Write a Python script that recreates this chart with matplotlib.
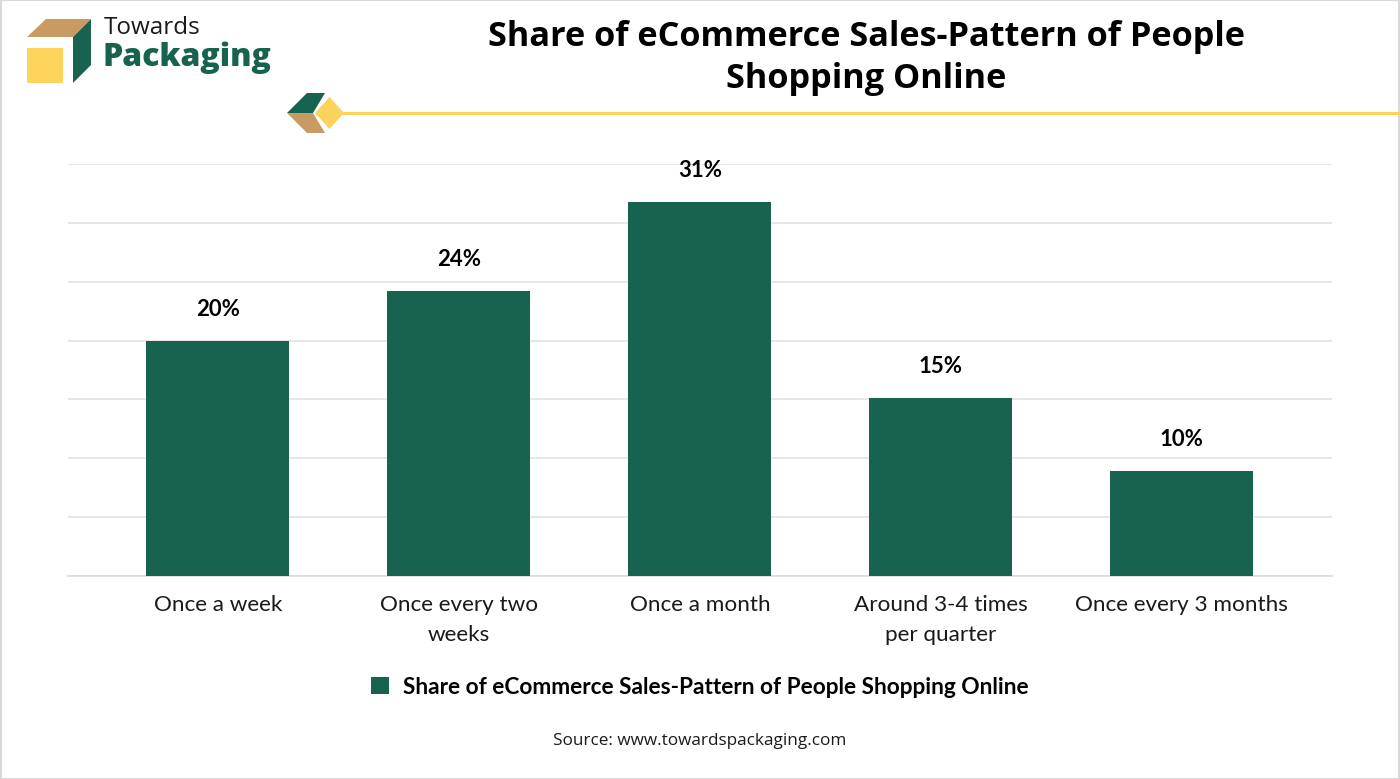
import matplotlib
matplotlib.use("Agg")
import matplotlib.pyplot as plt
from matplotlib.patches import Polygon, Rectangle, FancyBboxPatch
from matplotlib.lines import Line2D

# data
categories = ["Once a week", "Once every two\nweeks", "Once a month",
              "Around 3-4 times\nper quarter", "Once every 3 months"]
bar_values = [20.0, 24.2, 31.8, 15.1, 8.9]
value_labels = ["20%", "24%", "31%", "15%", "10%"]
series_name = "Share of eCommerce Sales-Pattern of People Shopping Online"
title = "Share of eCommerce Sales-Pattern of People\nShopping Online"
source = "Source: www.towardspackaging.com"

GREEN = "#17634f"
TAN = "#c99a62"
YELLOW = "#fdd35b"

W, H = 1400, 779
fig = plt.figure(figsize=(W / 100, H / 100), dpi=100)
fig.patch.set_facecolor("white")


def fp(x, y):
    # pixel coords (top-left origin) -> figure fraction
    return (x / W, 1 - y / H)


def poly(pts, color):
    fig.add_artist(Polygon([fp(*p) for p in pts], closed=True, transform=fig.transFigure,
                           facecolor=color, edgecolor="none"))


# outer border
fig.add_artist(Rectangle((0.0005, 0.0005), 0.999, 0.999, transform=fig.transFigure,
                         fill=False, edgecolor="#d9d9d9", linewidth=1.5))

# logo
poly([(27, 37), (73, 37), (91, 19), (46, 19)], TAN)
poly([(73, 37), (91, 19), (91, 65), (73, 83)], GREEN)
fig.add_artist(FancyBboxPatch(fp(27, 83), 36 / W, 35 / H, boxstyle="square,pad=0",
                              transform=fig.transFigure, facecolor=YELLOW, edgecolor="none"))
fig.text(*fp(104, 28), "Towards", fontsize=17.5, family="Open Sans", color="#1a1a1a", va="center")
fig.text(*fp(103, 58), "Packaging", fontsize=23, family="Open Sans", weight="heavy",
         color=GREEN, va="center")

# decoration + rule line
poly([(287, 113), (307, 93), (325, 93), (313, 113)], GREEN)
poly([(287, 113), (313, 113), (325, 133), (307, 133)], TAN)
poly([(315, 113), (329.5, 97), (344, 113), (329.5, 129)], YELLOW)
fig.add_artist(Line2D([344 / W, 1], [1 - 113 / H] * 2, transform=fig.transFigure,
                      color=YELLOW, linewidth=2.2))

fig.text(*fp(866, 58), title, ha="center", va="center", fontsize=24.7, family="Open Sans",
         weight="bold", color="black", linespacing=1.3)

# chart
ax = fig.add_axes([68 / W, 1 - 576 / H, (1332 - 68) / W, (576 - 164) / H])
x = range(len(categories))
bars = ax.bar(x, bar_values, width=0.593, color=GREEN, label=series_name, zorder=3)
ax.set_xlim(-0.622, 4.623)
ax.set_ylim(0, 35)
ax.set_yticks(range(0, 36, 5))
ax.yaxis.grid(True, color="#e3e3e3", linewidth=1.2, zorder=0)
ax.tick_params(axis="y", left=False, labelleft=False)
ax.tick_params(axis="x", length=0, pad=14)
ax.set_xticks(list(x))
ax.set_xticklabels(categories, fontsize=16.2, family="Lato", color="#1a1a1a", linespacing=1.6)
for side in ["top", "left", "right"]:
    ax.spines[side].set_visible(False)
ax.spines["bottom"].set_color("#d9d9d9")
ax.spines["bottom"].set_linewidth(1.2)

for rect, lab in zip(bars, value_labels):
    ax.annotate(lab, (rect.get_x() + rect.get_width() / 2, rect.get_height()),
                xytext=(0, 15), textcoords="offset points", ha="center", va="bottom",
                fontsize=16, family="Lato", weight="bold", color="black")

fig.legend(handles=[bars], labels=[series_name], loc="center", bbox_to_anchor=fp(700, 687),
           frameon=False, handlelength=0.8, handleheight=0.8, handletextpad=0.6,
           prop={"family": "Lato", "weight": "bold", "size": 16.3})

fig.text(*fp(700, 741), source, ha="center", va="center", fontsize=12.3, family="Open Sans",
         color="#1a1a1a")

fig.savefig("out.png", dpi=100)
